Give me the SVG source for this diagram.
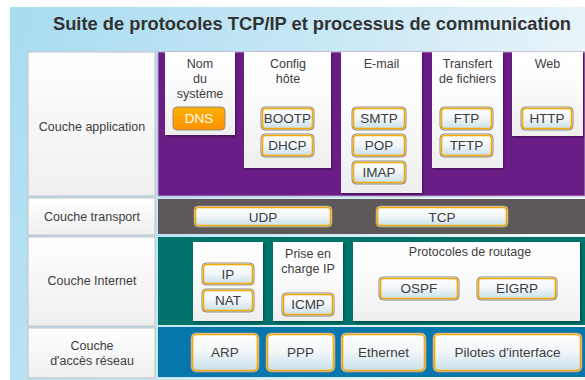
<svg xmlns="http://www.w3.org/2000/svg" width="585" height="380" viewBox="0 0 585 380">
<defs>
<linearGradient id="bg" x1="0" y1="0" x2="1" y2="0.3">
<stop offset="0" stop-color="#a8dbf1"/>
<stop offset="0.55" stop-color="#c9e8f5"/>
<stop offset="1" stop-color="#eef6fa"/>
</linearGradient>
<linearGradient id="btn" x1="0" y1="0" x2="0" y2="1">
<stop offset="0" stop-color="#ffffff"/>
<stop offset="0.45" stop-color="#f4f8fa"/>
<stop offset="1" stop-color="#c4dde9"/>
</linearGradient>
<linearGradient id="dns" x1="0" y1="0" x2="0" y2="1">
<stop offset="0" stop-color="#ffb000"/>
<stop offset="1" stop-color="#ff9000"/>
</linearGradient>
<linearGradient id="card" x1="0" y1="0" x2="0" y2="1">
<stop offset="0" stop-color="#ffffff"/>
<stop offset="0.35" stop-color="#fdfdfd"/>
<stop offset="1" stop-color="#efeeef"/>
</linearGradient>
<linearGradient id="cell" x1="0" y1="0" x2="0" y2="1">
<stop offset="0" stop-color="#ffffff"/>
<stop offset="1" stop-color="#f0eff0"/>
</linearGradient>
<filter id="sh" x="-10%" y="-10%" width="130%" height="130%">
<feDropShadow dx="1" dy="1.5" stdDeviation="1" flood-color="#000" flood-opacity="0.35"/>
</filter>
</defs>
<style>
text{font-family:"Liberation Sans",Arial,Helvetica,sans-serif;fill:#3d3d3d;font-size:12.5px;text-anchor:middle}
.title{font-size:18.5px;font-weight:bold;fill:#333333}
.bt{font-size:13.5px}
.bo{fill:url(#btn);stroke:#8c8c8c;stroke-width:1}
.bi{fill:none;stroke:#f6a900;stroke-width:1.6}
.card{fill:url(#card);filter:url(#sh)}
.cell{fill:url(#cell);stroke:#c2c2c2;stroke-width:1}
</style>
<rect x="10" y="7" width="575" height="373" fill="url(#bg)"/>
<text class="title" x="312" y="30" textLength="518" lengthAdjust="spacingAndGlyphs">Suite de protocoles TCP/IP et processus de communication</text>

<!-- left column -->
<g id="couche-application"><rect class="cell" x="28" y="52" width="127" height="144" fill="#ffffff"/><text x="92" y="131">Couche application</text></g>
<g id="couche-transport"><rect class="cell" x="28" y="198" width="127" height="37"/><text x="92" y="221">Couche transport</text></g>
<g id="couche-internet"><rect class="cell" x="28" y="237" width="127" height="89"/><text x="92" y="285">Couche Internet</text></g>
<g id="couche-acces"><rect class="cell" x="28" y="328" width="127" height="50"/><text x="92" y="350">Couche</text><text x="92" y="365">d'accès réseau</text></g>

<!-- bands -->
<rect x="158" y="52" width="427" height="144" fill="#6b1d87" stroke="#b99ac6" stroke-width="1"/>
<rect x="158" y="199" width="427" height="35" fill="#5f5858"/>
<rect x="158" y="237" width="427" height="88" fill="#00736a"/>
<rect x="158" y="327" width="427" height="50" fill="#0677ad"/>

<!-- application cards -->
<g id="nom-systeme">
<rect class="card" x="165" y="52" width="70" height="83"/>
<text x="200" y="68">Nom</text><text x="200" y="83">du</text><text x="200" y="98">système</text>
<rect x="173" y="107" width="52" height="23" rx="4" fill="url(#dns)" stroke="#9a8c7a" stroke-width="1"/>
<text class="bt" x="199" y="123" style="fill:#ffffff">DNS</text>
</g>
<g id="config-hote">
<rect class="card" x="244" y="52" width="87" height="116"/>
<text x="288" y="68">Config</text><text x="288" y="83">hôte</text>
<rect class="bo" x="261" y="107" width="53" height="23" rx="4"/><rect class="bi" x="262.5" y="108.5" width="50" height="20" rx="3"/>
<text class="bt" x="287.5" y="123">BOOTP</text>
<rect class="bo" x="261" y="134" width="53" height="23" rx="4"/><rect class="bi" x="262.5" y="135.5" width="50" height="20" rx="3"/>
<text class="bt" x="287.5" y="150">DHCP</text>
</g>
<g id="email">
<rect class="card" x="341" y="52" width="81" height="141"/>
<text x="381.5" y="68">E-mail</text>
<rect class="bo" x="352" y="107" width="54" height="23" rx="4"/><rect class="bi" x="353.5" y="108.5" width="51" height="20" rx="3"/>
<text class="bt" x="379" y="123">SMTP</text>
<rect class="bo" x="352" y="134" width="54" height="23" rx="4"/><rect class="bi" x="353.5" y="135.5" width="51" height="20" rx="3"/>
<text class="bt" x="379" y="150">POP</text>
<rect class="bo" x="352" y="161" width="54" height="23" rx="4"/><rect class="bi" x="353.5" y="162.5" width="51" height="20" rx="3"/>
<text class="bt" x="379" y="177">IMAP</text>
</g>
<g id="transfert-fichiers">
<rect class="card" x="432" y="52" width="71" height="116"/>
<text x="467.5" y="68">Transfert</text><text x="467.5" y="83">de fichiers</text>
<rect class="bo" x="440" y="107" width="53" height="23" rx="4"/><rect class="bi" x="441.5" y="108.5" width="50" height="20" rx="3"/>
<text class="bt" x="466.5" y="123">FTP</text>
<rect class="bo" x="440" y="134" width="53" height="23" rx="4"/><rect class="bi" x="441.5" y="135.5" width="50" height="20" rx="3"/>
<text class="bt" x="466.5" y="150">TFTP</text>
</g>
<g id="web">
<rect class="card" x="512" y="52" width="71" height="84"/>
<text x="547.5" y="68">Web</text>
<rect class="bo" x="521" y="107" width="52" height="23" rx="4"/><rect class="bi" x="522.5" y="108.5" width="49" height="20" rx="3"/>
<text class="bt" x="547" y="123">HTTP</text>
</g>

<!-- transport -->
<g id="udp">
<rect class="bo" x="194" y="206" width="138" height="21" rx="4"/><rect class="bi" x="195.5" y="207.5" width="135" height="18" rx="3"/>
<text class="bt" x="263" y="221.5">UDP</text>
</g>
<g id="tcp">
<rect class="bo" x="376" y="206" width="132" height="21" rx="4"/><rect class="bi" x="377.5" y="207.5" width="129" height="18" rx="3"/>
<text class="bt" x="442" y="221.5">TCP</text>
</g>

<!-- internet -->
<g id="ip-nat">
<rect class="card" x="193" y="242" width="70" height="79"/>
<rect class="bo" x="202" y="263" width="52" height="22" rx="4"/><rect class="bi" x="203.5" y="264.5" width="49" height="19" rx="3"/>
<text class="bt" x="228" y="279">IP</text>
<rect class="bo" x="202" y="289" width="52" height="23" rx="4"/><rect class="bi" x="203.5" y="290.5" width="49" height="20" rx="3"/>
<text class="bt" x="228" y="305">NAT</text>
</g>
<g id="prise-en-charge-ip">
<rect class="card" x="273" y="242" width="70" height="79"/>
<text x="308" y="258">Prise en</text><text x="308" y="273">charge IP</text>
<rect class="bo" x="282" y="293" width="52" height="23" rx="4"/><rect class="bi" x="283.5" y="294.5" width="49" height="20" rx="3"/>
<text class="bt" x="308" y="309">ICMP</text>
</g>
<g id="protocoles-routage">
<rect class="card" x="353" y="242" width="227" height="79"/>
<text x="470" y="256">Protocoles de routage</text>
<rect class="bo" x="379" y="277" width="80" height="23" rx="4"/><rect class="bi" x="380.5" y="278.5" width="77" height="20" rx="3"/>
<text class="bt" x="419" y="293">OSPF</text>
<rect class="bo" x="477" y="277" width="80" height="23" rx="4"/><rect class="bi" x="478.5" y="278.5" width="77" height="20" rx="3"/>
<text class="bt" x="517" y="293">EIGRP</text>
</g>

<!-- network access -->
<g id="arp">
<rect class="bo" x="191" y="333" width="68" height="39" rx="5"/><rect class="bi" x="192.5" y="334.5" width="65" height="36" rx="4"/>
<text class="bt" x="225" y="357">ARP</text>
</g>
<g id="ppp">
<rect class="bo" x="266" y="333" width="69" height="39" rx="5"/><rect class="bi" x="267.5" y="334.5" width="66" height="36" rx="4"/>
<text class="bt" x="300.5" y="357">PPP</text>
</g>
<g id="ethernet">
<rect class="bo" x="341" y="333" width="85" height="39" rx="5"/><rect class="bi" x="342.5" y="334.5" width="82" height="36" rx="4"/>
<text class="bt" x="383.5" y="357">Ethernet</text>
</g>
<g id="pilotes-interface">
<rect class="bo" x="433" y="333" width="149" height="39" rx="5"/><rect class="bi" x="434.5" y="334.5" width="146" height="36" rx="4"/>
<text class="bt" x="507.5" y="357">Pilotes d'interface</text>
</g>
</svg>
